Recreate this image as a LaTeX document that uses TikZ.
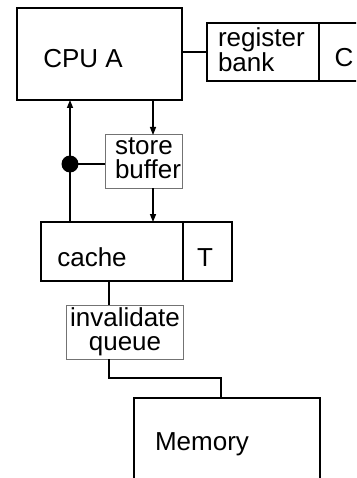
\documentclass[tikz,border=0pt]{standalone}
\usepackage{fontspec}
\setmainfont{Liberation Sans}
\usetikzlibrary{arrows.meta}
\begin{document}
\begin{tikzpicture}[x=1pt,y=-1pt,
  every node/.style={inner sep=0pt,outer sep=0pt},
  lbl/.style={font=\fontsize{26}{24}\selectfont},
  unit/.style={draw=black,line width=1.4pt,rectangle,anchor=north west},
  cpubox/.style={draw=black,line width=2.6pt,rectangle,anchor=north west},
  fifo/.style={draw=black!55,line width=1pt,rectangle,anchor=north west,fill=white},
  wire/.style={line width=1.4pt,draw=black},
  arr/.style={wire,-{Stealth[length=8pt,width=6pt,inset=0pt]}},
  dot/.style={circle,fill=black,minimum size=17pt}]
\clip (0,0) rectangle (356,478);
\fill[white] (0,0) rectangle (356,478);

% bus positions
\coordinate (busL) at (70,0);
\coordinate (busR) at (153,0);
\coordinate (busQ) at (109,0);
\coordinate (busM) at (221,378);

% processor and its register bank
\node[cpubox,minimum width=165pt,minimum height=92pt] (cpu) at (17,8) {};
\node[lbl,anchor=base] (cpulbl) at (83,68) {CPU A};
\node[unit,minimum width=112pt,minimum height=58pt] (reg) at (207,23) {};
\node[unit,minimum width=50pt,minimum height=58pt] (regc) at (319,23) {};
\node[lbl,anchor=west,align=left] (reglbl) at (218,50) {register\\bank};
\node[lbl,anchor=base] (clbl) at (344,67) {C};
\draw[wire] (cpu.east |- reg.west) -- (reg.west);

% store buffer
\node[fifo,minimum width=77pt,minimum height=53pt] (sb) at (105,135) {};
\node[lbl,anchor=west,align=left] (sblbl) at (115,158) {store\\buffer};

% cache with tag column
\node[unit,minimum width=142pt,minimum height=59pt] (cache) at (41,222) {};
\node[unit,minimum width=49pt,minimum height=59pt] (tag) at (183,222) {};
\node[lbl,anchor=base] (cachelbl) at (92,266) {cache};
\node[lbl,anchor=base] (taglbl) at (205,266) {T};

% invalidate queue
\node[fifo,minimum width=117pt,minimum height=54pt] (iq) at (66,305) {};
\node[lbl,anchor=center,align=center] (iqlbl) at (125,332) {invalidate\\queue};

% memory
\node[unit,minimum width=186pt,minimum height=100pt] (mem) at (134,398) {};
\node[lbl,anchor=base] (memlbl) at (202,450) {Memory};

% connections
\draw[arr] (cpu.south -| busR) -- (sb.north -| busR);
\draw[arr] (sb.south -| busR) -- (cache.north -| busR);
\draw[arr] (cache.north -| busL) -- (cpu.south -| busL);
\node[dot] (jn) at (70,164) {};
\draw[wire] (jn.center) -- (sb.west |- jn.center);
\draw[wire] (cache.south -| busQ) -- (iq.north -| busQ);
\draw[wire] (iq.south -| busQ) |- (busM) -- (mem.north -| busM);
\end{tikzpicture}
\end{document}
